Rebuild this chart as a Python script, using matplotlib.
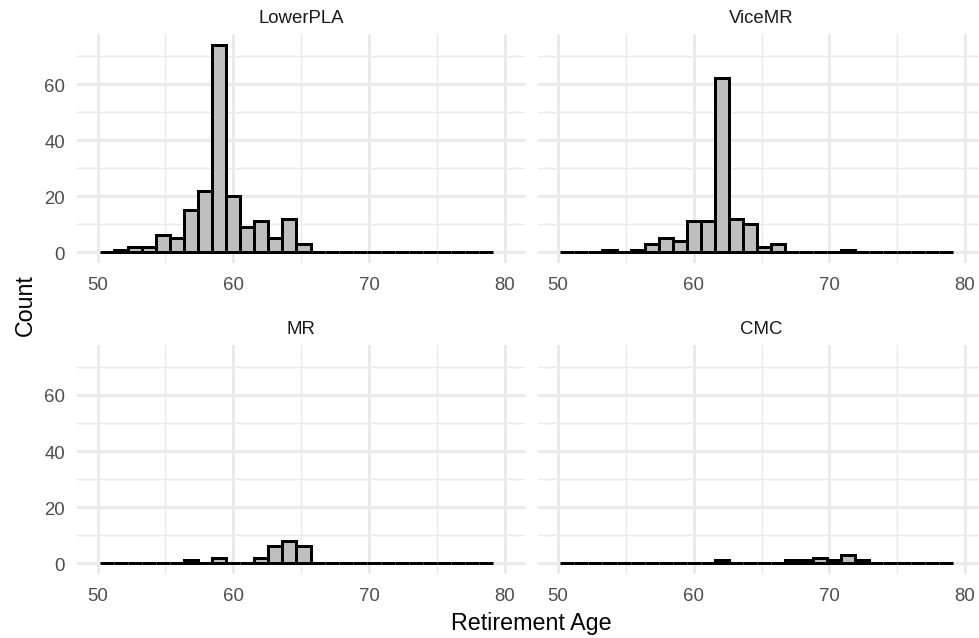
import numpy as np
import matplotlib
matplotlib.use("Agg")
import matplotlib.pyplot as plt
from matplotlib.ticker import MultipleLocator

plt.rcParams['font.family'] = ['Liberation Sans', 'DejaVu Sans']

# ---- data ----
panels = ["LowerPLA", "ViceMR", "MR", "CMC"]
x_limits = [50, 80]
n_bins = 30  # ggplot-style bins over the x limits (edge bins fall outside)
lowerpla = [0, 1, 2, 2, 6, 5, 15, 22, 74, 20, 9, 11, 5, 12, 3,
            0, 0, 0, 0, 0, 0, 0, 0, 0, 0, 0, 0, 0]
vicemr = [0, 0, 0, 1, 0, 1, 3, 5, 4, 11, 11, 62, 12, 10, 2,
          3, 0, 0, 0, 0, 1, 0, 0, 0, 0, 0, 0, 0]
mr = [0, 0, 0, 0, 0, 0, 1, 0, 2, 0, 0, 2, 6, 8, 6,
      0, 0, 0, 0, 0, 0, 0, 0, 0, 0, 0, 0, 0]
cmc = [0, 0, 0, 0, 0, 0, 0, 0, 0, 0, 0, 1, 0, 0, 0,
       0, 1, 1, 2, 1, 3, 1, 0, 0, 0, 0, 0, 0]
counts = [lowerpla, vicemr, mr, cmc]
x_ticks = [50, 60, 70, 80]
y_ticks = [0, 20, 40, 60]
x_label = "Retirement Age"
y_label = "Count"

# ---- bin edges (ggplot2 bins=30 logic) ----
width = (x_limits[1] - x_limits[0]) / (n_bins - 1)
boundary = width / 2
shift = np.floor((x_limits[0] - boundary) / width)
origin = boundary + shift * width
all_edges = origin + np.arange(n_bins + 2) * width
# keep bins fully inside limits
lefts = [e for e in all_edges[:-1] if e >= x_limits[0] and e + width <= x_limits[1] + 1e-9]
lefts = np.array(lefts[:len(lowerpla)])

# ---- layout ----
W, H = 979, 639
DPI = 152
fig = plt.figure(figsize=(W / DPI, H / DPI), dpi=DPI)

left1, left2 = 77.3, 537.7
pw = 447.7
tops = [35.4, 346.3]
ph = 228.3
pos = [(left1, tops[0]), (left2, tops[0]), (left1, tops[1]), (left2, tops[1])]

ymax = max(max(c) for c in counts)
xr = x_limits[1] - x_limits[0]
xlim = (x_limits[0] - 0.05 * xr, x_limits[1] + 0.05 * xr)
ylim = (-0.05 * ymax, ymax * 1.05)

grid_col = "#EBEBEB"
for i, (name, cnt) in enumerate(zip(panels, counts)):
    lx, ty = pos[i]
    ax = fig.add_axes([lx / W, 1 - (ty + ph) / H, pw / W, ph / H])
    ax.set_facecolor("white")
    ax.bar(lefts, cnt, width=width, align="edge", color="#BEBEBE",
           edgecolor="black", linewidth=1.42, zorder=3)
    ax.set_xlim(*xlim)
    ax.set_ylim(*ylim)
    ax.set_xticks(x_ticks)
    ax.set_yticks(y_ticks)
    ax.xaxis.set_minor_locator(MultipleLocator(5))
    ax.yaxis.set_minor_locator(MultipleLocator(10))
    ax.grid(True, which="major", color=grid_col, linewidth=1.42, zorder=0)
    ax.grid(True, which="minor", color=grid_col, linewidth=0.71, zorder=0)
    ax.set_axisbelow(True)
    for s in ax.spines.values():
        s.set_visible(False)
    ax.tick_params(which="both", length=0)
    ax.tick_params(axis="x", pad=6.2, labelsize=8.8, labelcolor="#4D4D4D")
    ax.tick_params(axis="y", pad=5.8, labelsize=8.8, labelcolor="#4D4D4D")
    if i % 2 == 1:
        ax.set_yticklabels([])
    ax.set_title(name, fontsize=8.8, color="#1A1A1A", pad=5.7)

fig.text(531 / W, 1 - 630 / H, x_label, ha="center", va="baseline",
         fontsize=11, color="black")
fig.text(25 / W, 1 - 305 / H, y_label, ha="center", va="center",
         rotation=90, fontsize=11, color="black")

fig.savefig("out.png", dpi=DPI, facecolor="white")
